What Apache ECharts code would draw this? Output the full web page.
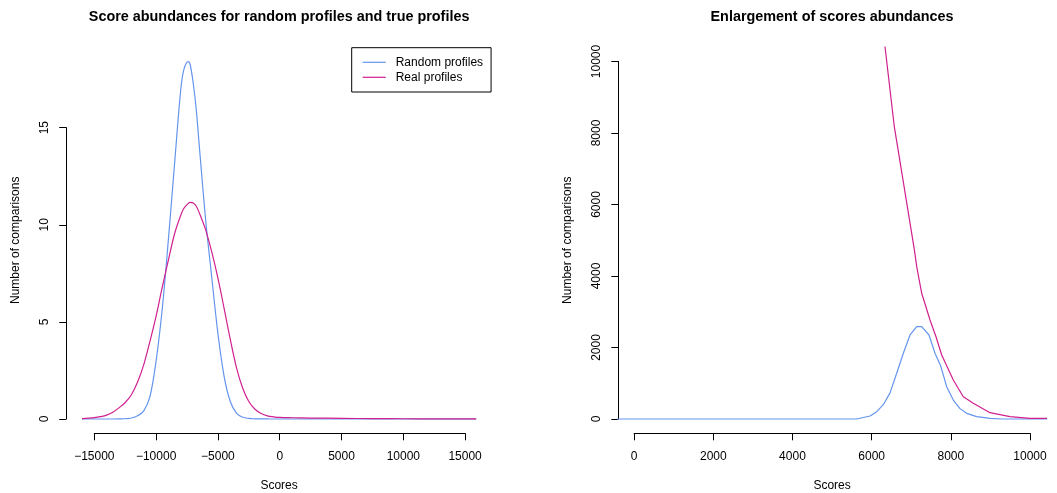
<!DOCTYPE html>
<html><head><meta charset="utf-8">
<script src="https://cdn.jsdelivr.net/npm/echarts@6/dist/echarts.min.js"></script>
<style>html,body{margin:0;padding:0;background:#fff}#c{width:1057px;height:493px}</style>
</head><body><div id="c"></div>
<script>
const FONT = '"Liberation Sans", Arial, Helvetica, sans-serif';
const BLUE = '#6495ED';
const RED = '#D0208F';

// ---- Left panel data ----
const leftScores = [-16000,-15000,-14500,-14000,-13500,-13000,-12500,-12000,-11500,-11000,-10500,-10000,-9500,-9000,-8500,-8000,-7750,-7400,-7250,-7000,-6750,-6500,-6000,-5500,-5000,-4500,-4000,-3500,-3000,-2500,-2000,-1500,-1000,-500,0,1000,2500,5000,7500,10000,12500,15900];
const leftRandom = [0,0,0,0,0,0.003,0.012,0.05,0.17,0.42,1.15,3.0,5.7,9.3,13.2,17.0,18.0,18.4,18.25,17.3,15.9,14.0,10.3,7.3,4.4,2.2,0.9,0.3,0.09,0.03,0.01,0.004,0.002,0.001,0,0,0,0,0,0,0,0];
const leftReal = [0.02,0.07,0.12,0.2,0.35,0.58,0.85,1.25,1.9,2.8,4.0,5.3,6.8,8.2,9.55,10.5,10.85,11.1,11.15,11.12,10.95,10.6,9.75,8.6,7.25,5.7,4.1,2.65,1.6,0.9,0.5,0.28,0.16,0.11,0.08,0.065,0.05,0.035,0.02,0.012,0.006,0.002];
const leftXTicks = [-15000,-10000,-5000,0,5000,10000,15000];
const leftYTicks = [0,5,10,15];

// ---- Right panel data ----
const rightRandomScores = [-1000,5620,5960,6129,6295,6465,6633,6801,6970,7139,7265,7449,7601,7745,7896,8063,8232,8401,8654,8990,9300,11000];
const rightRandomCounts = [0,0,84,205,400,730,1280,1840,2350,2582,2582,2350,1838,1482,904,531,290,159,65,19,0,0];
const rightRealScores = [6250,6338,6573,7078,7139,7265,7475,7626,7770,8063,8316,8568,8990,9495,10000,11000];
const rightRealCounts = [11250,10413,8176,4747,4260,3516,2769,2302,1790,1091,624,438,177,65,20,12];
const rightXTicks = [0,2000,4000,6000,8000,10000];
const rightYTicks = [0,2000,4000,6000,8000,10000];

// ---- Layout (plot regions in px) ----
const PL = {left: 66.2, top: 47.3, width: 425.8, height: 386.0};
const PR = {left: 618.3, top: 47.2, width: 427.5, height: 386.1};

function ext(a, b) { const d = (b - a) * 0.04; return [a - d, b + d]; }
const LX = ext(Math.min(...leftScores), Math.max(...leftScores));
const LY = ext(0, Math.max(...leftRandom));
const RX = ext(0, 10000);
const RY = ext(0, 10000);

function axisGrid(P, xd, yd, xt, yt) {
  const px = v => P.left + (v - xd[0]) / (xd[1] - xd[0]) * P.width;
  const py = v => P.top + P.height - (v - yd[0]) / (yd[1] - yd[0]) * P.height;
  const l = px(xt[0]), r = px(xt[xt.length - 1]);
  const t = py(yt[yt.length - 1]), b = py(yt[0]);
  return {grid: {left: l, top: t, width: r - l, height: b - t},
          xOff: P.top + P.height - b, yOff: l - P.left};
}
const AL = axisGrid(PL, LX, LY, leftXTicks, leftYTicks);
const AR = axisGrid(PR, RX, RY, rightXTicks, rightYTicks);

const minus = v => String(v).replace('-', '\u2212');
const plain = v => String(v);
const lbl = {color: '#000', fontSize: 12, fontFamily: FONT};

function hiddenX(g, d, name) {
  return {type: 'value', gridIndex: g, min: d[0], max: d[1], axisLine: {show: false, onZero: false}, axisTick: {show: false},
    axisLabel: {show: false}, splitLine: {show: false}, name: name, nameLocation: 'middle', nameGap: 46,
    nameTextStyle: lbl};
}
function hiddenY(g, d, name) {
  return {type: 'value', gridIndex: g, min: d[0], max: d[1], axisLine: {show: false, onZero: false}, axisTick: {show: false},
    axisLabel: {show: false}, splitLine: {show: false}, name: name, nameLocation: 'middle', nameGap: 45,
    nameTextStyle: lbl};
}
function shownX(g, ticks, off, fmt) {
  return {type: 'value', gridIndex: g, position: 'bottom', min: ticks[0], max: ticks[ticks.length - 1], interval: ticks[1] - ticks[0],
    offset: off, axisLine: {show: true, onZero: false, lineStyle: {color: '#000', width: 1}},
    axisTick: {show: true, length: 7, lineStyle: {color: '#000'}},
    axisLabel: Object.assign({margin: 17, formatter: fmt}, lbl), splitLine: {show: false}};
}
function shownY(g, ticks, off) {
  return {type: 'value', gridIndex: g, position: 'left', min: ticks[0], max: ticks[ticks.length - 1], interval: ticks[1] - ticks[0],
    offset: off, axisLine: {show: true, onZero: false, lineStyle: {color: '#000', width: 1}},
    axisTick: {show: true, length: 7, lineStyle: {color: '#000'}},
    axisLabel: Object.assign({margin: 16, rotate: 90, formatter: plain}, lbl), splitLine: {show: false}};
}

const zip = (xs, ys) => xs.map((x, i) => [x, ys[i]]);

const chart = echarts.init(document.getElementById('c'), null, {renderer: 'canvas'});
chart.setOption({
  animation: false,
  backgroundColor: '#fff',
  grid: [PL, AL.grid, PR, AR.grid].map(g => Object.assign({containLabel: false, outerBoundsMode: 'none'}, g)),
  xAxis: [
    hiddenX(0, LX, 'Scores'),
    shownX(1, leftXTicks, AL.xOff, minus),
    hiddenX(2, RX, 'Scores'),
    shownX(3, rightXTicks, AR.xOff, plain)
  ],
  yAxis: [
    hiddenY(0, LY, 'Number of comparisons'),
    shownY(1, leftYTicks, AL.yOff),
    hiddenY(2, RY, 'Number of comparisons'),
    shownY(3, rightYTicks, AR.yOff)
  ],
  legend: {
    data: ['Random profiles', 'Real profiles'], orient: 'vertical', left: 351.7, top: 47.7,
    itemWidth: 23, itemHeight: 12, itemGap: 3, padding: [8.6, 8, 8.7, 11],
    icon: 'path://M0,0H23V1.2H0Z',
    borderColor: '#000', borderWidth: 1, borderRadius: 0, selectedMode: false,
    textStyle: {color: '#000', fontSize: 12, fontFamily: FONT, padding: [0, 0, 0, 5]}
  },
  graphic: [
    {type: 'text', x: PL.left + PL.width / 2, y: 17.3, style: {text: 'Score abundances for random profiles and true profiles',
      fill: '#000', font: 'bold 14.4px ' + FONT, textAlign: 'center', textVerticalAlign: 'middle'}},
    {type: 'text', x: PR.left + PR.width / 2, y: 17.3, style: {text: 'Enlargement of scores abundances',
      fill: '#000', font: 'bold 14.4px ' + FONT, textAlign: 'center', textVerticalAlign: 'middle'}}
  ],
  series: [
    {name: 'Random profiles', type: 'line', xAxisIndex: 0, yAxisIndex: 0, data: zip(leftScores, leftRandom),
      symbol: 'none', smooth: 0.35, lineStyle: {color: BLUE, width: 1.2}, itemStyle: {color: BLUE}},
    {name: 'Real profiles', type: 'line', xAxisIndex: 0, yAxisIndex: 0, data: zip(leftScores, leftReal),
      symbol: 'none', smooth: 0.35, lineStyle: {color: RED, width: 1.2}, itemStyle: {color: RED}},
    {name: 'Random profiles', type: 'line', xAxisIndex: 2, yAxisIndex: 2, data: zip(rightRandomScores, rightRandomCounts),
      symbol: 'none', clip: true, lineStyle: {color: BLUE, width: 1.2}, itemStyle: {color: BLUE}},
    {name: 'Real profiles', type: 'line', xAxisIndex: 2, yAxisIndex: 2, data: zip(rightRealScores, rightRealCounts),
      symbol: 'none', clip: true, lineStyle: {color: RED, width: 1.2}, itemStyle: {color: RED}}
  ]
});
</script></body></html>
